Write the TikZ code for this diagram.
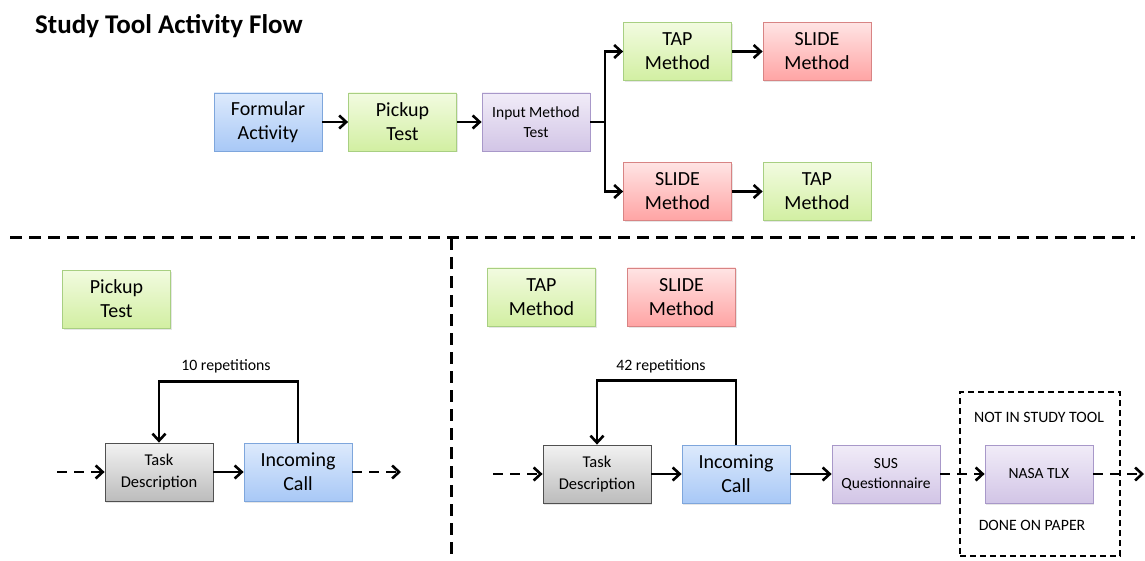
\documentclass[tikz,border=0pt]{standalone}
\usepackage{fontspec}
\setmainfont{Carlito}
\usetikzlibrary{arrows.meta,shadows}
\definecolor{bluetop}{HTML}{DDEAFC}
\definecolor{bluebot}{HTML}{A8C8F6}
\definecolor{blueline}{HTML}{7EA6DC}
\definecolor{greentop}{HTML}{F2FBE0}
\definecolor{greenbot}{HTML}{D2EFA2}
\definecolor{greenline}{HTML}{A8CF82}
\definecolor{redtop}{HTML}{FFE4E4}
\definecolor{redbot}{HTML}{FFA4A4}
\definecolor{redline}{HTML}{D88484}
\definecolor{purtop}{HTML}{F1ECF8}
\definecolor{purbot}{HTML}{D2C5E6}
\definecolor{purline}{HTML}{A898C9}
\definecolor{graytop}{HTML}{F2F2F2}
\definecolor{graybot}{HTML}{BCBCBC}
\definecolor{grayline}{HTML}{505050}
\tikzset{
  x=1pt, y=-1pt,
  box/.style={minimum width=108pt, minimum height=58pt, inner sep=0pt, align=center,
    line width=0.8pt, drop shadow={shadow xshift=1pt, shadow yshift=-1.5pt, opacity=0.2}},
  big/.style={font=\fontsize{20}{24}\selectfont},
  small/.style={font=\fontsize{15.5}{20}\selectfont},
  mid/.style={font=\fontsize{16.5}{22}\selectfont},
  bluebox/.style={box, big, top color=bluetop, bottom color=bluebot, draw=blueline},
  greenbox/.style={box, big, top color=greentop, bottom color=greenbot, draw=greenline},
  redbox/.style={box, big, top color=redtop, bottom color=redbot, draw=redline},
  purbox/.style={box, small, top color=purtop, bottom color=purbot, draw=purline},
  graybox/.style={box, mid, top color=graytop, bottom color=graybot, draw=grayline},
  arr/.style={line width=2.8pt, -{Straight Barb[length=7pt, width=13pt, line width=2.6pt]}},
  darr/.style={arr, dash pattern=on 10pt off 7pt},
  seprule/.style={line width=3pt, dash pattern=on 12pt off 7pt},
  lbl/.style={font=\fontsize{15.8}{18}\selectfont, inner sep=0pt},
}
\begin{document}
\begin{tikzpicture}
\useasboundingbox (0,0) rectangle (1145,561);
% title
\node[anchor=west, font=\fontsize{27}{30}\bfseries\selectfont, inner sep=0pt] (title) at (35,26) {Study Tool Activity Flow};
% top flow
\node[bluebox] (fa) at (268,122) {Formular\\Activity};
\node[greenbox] (pt1) at (402.5,122) {Pickup\\Test};
\node[purbox] (imt) at (536,122) {Input Method\\Test};
\node[greenbox] (tap1) at (677.5,51.5) {TAP\\Method};
\node[redbox] (slide1) at (817,51.5) {SLIDE\\Method};
\node[redbox] (slide2) at (677.5,191.5) {SLIDE\\Method};
\node[greenbox] (tap2) at (817,191.5) {TAP\\Method};
\coordinate (br) at (605,122);
\draw[arr] (fa) -- (pt1);
\draw[arr] (pt1) -- (imt);
\draw[line width=2.8pt] (imt.east) -- (br);
\draw[arr] (br) |- (tap1.west);
\draw[arr] (br) |- (slide2.west);
\draw[arr] (tap1) -- (slide1);
\draw[arr] (slide2) -- (tap2);
% separators
\coordinate (s1) at (10,238);
\coordinate (s2) at (1135,238);
\coordinate (s3) at (451,238);
\coordinate (s4) at (451,561);
\draw[seprule] (s1) -- (s2);
\draw[seprule] (s3) -- (s4);
% bottom left
\node[greenbox] (pt2) at (116.5,299) {Pickup\\Test};
\node[graybox] (td1) at (159,472) {Task\\Description};
\node[bluebox] (ic1) at (298,472) {Incoming\\Call};
\coordinate (in1) at (57,472);
\coordinate (out1) at (401,472);
\draw[darr] (in1) -- (td1);
\draw[arr] (td1) -- (ic1);
\draw[darr] (ic1) -- (out1);
\draw[arr] (ic1.north) -- ++(0,-61) -| (td1.north);
\node[lbl] (rep1) at (226,366) {10 repetitions};
% bottom right
\node[greenbox] (tap3) at (541.5,297) {TAP\\Method};
\node[redbox] (slide3) at (681.5,297) {SLIDE\\Method};
\node[graybox] (td2) at (597,474) {Task\\Description};
\node[bluebox] (ic2) at (736,474) {Incoming\\Call};
\node[purbox] (sus) at (886,474) {SUS\\Questionnaire};
\node[purbox] (nasa) at (1039,474) {NASA TLX};
\node[draw, line width=2pt, dash pattern=on 6pt off 4pt, minimum width=160pt, minimum height=164pt, inner sep=0pt] (paper) at (1040,474) {};
\node[lbl] (nist) at (1039,417) {NOT IN STUDY TOOL};
\node[lbl] (dop) at (1032,525) {DONE ON PAPER};
\coordinate (in2) at (493,474);
\coordinate (out2) at (1144,474);
\draw[darr] (in2) -- (td2);
\draw[arr] (td2) -- (ic2);
\draw[arr] (ic2) -- (sus);
\draw[darr] (sus) -- (nasa);
\draw[darr] (nasa) -- (out2);
\draw[arr] (ic2.north) -- ++(0,-64) -| (td2.north);
\node[lbl] (rep2) at (661,366) {42 repetitions};
\end{tikzpicture}
\end{document}
